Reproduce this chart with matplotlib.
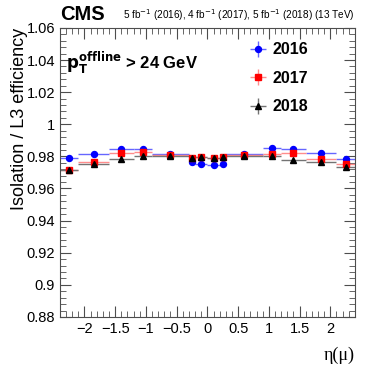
import numpy as np
import matplotlib
matplotlib.use("Agg")
import matplotlib.pyplot as plt
from matplotlib.ticker import MultipleLocator

plt.rcParams['font.family'] = ['Liberation Sans', 'DejaVu Sans']

# eta bin edges
edges = np.array([-2.4, -2.1, -1.6, -1.2, -0.9, -0.3, -0.2, 0.0,
                  0.2, 0.3, 0.9, 1.2, 1.6, 2.1, 2.4])
eff_2016 = [0.9792, 0.9817, 0.9848, 0.9844, 0.9812, 0.9767, 0.9750,
            0.9744, 0.9754, 0.9812, 0.9854, 0.9848, 0.9821, 0.9785]
eff_2017 = [0.9717, 0.9767, 0.9821, 0.9827, 0.9806, 0.9792, 0.9796,
            0.9790, 0.9796, 0.9806, 0.9817, 0.9821, 0.9785, 0.9750]
eff_2018 = [0.9715, 0.9750, 0.9781, 0.9800, 0.9804, 0.9790, 0.9795,
            0.9790, 0.9796, 0.9805, 0.9800, 0.9775, 0.9765, 0.9733]
err = 0.0006
years = ['2016', '2017', '2018']

centers = 0.5 * (edges[1:] + edges[:-1])
halfw = 0.5 * (edges[1:] - edges[:-1])

fig = plt.figure(figsize=(3.74, 3.72), dpi=100)
ax = fig.add_axes([0.160, 0.148, 0.789, 0.777])

styles = [('blue', 'o', (0.4, 0.4, 1.0)),
          ('red', 's', (1.0, 0.55, 0.55)),
          ('black', '^', (0.45, 0.45, 0.45))]
for vals, yr, (c, m, ec) in zip([eff_2016, eff_2017, eff_2018], years, styles):
    ax.errorbar(centers, vals, xerr=halfw, yerr=err, fmt=m, color=c,
                ecolor=ec, elinewidth=1.0, markersize=4.3, capsize=0,
                label=yr)

ax.set_xlim(-2.4, 2.4)
ax.set_ylim(0.88, 1.06)
ax.xaxis.set_major_locator(MultipleLocator(0.5))
ax.xaxis.set_minor_locator(MultipleLocator(0.1))
ax.yaxis.set_major_locator(MultipleLocator(0.02))
ax.yaxis.set_minor_locator(MultipleLocator(0.004))
ax.tick_params(which='both', direction='in', top=True, right=True,
               labelsize=10.5, color='0.3')
ax.tick_params(which='major', length=8)
ax.tick_params(which='minor', length=4)
ax.set_yticks(np.arange(0.88, 1.0601, 0.02))
ax.set_yticklabels(['0.88', '0.9', '0.92', '0.94', '0.96', '0.98', '1',
                    '1.02', '1.04', '1.06'])
ax.set_xticks(np.arange(-2, 2.01, 0.5))
ax.set_xticklabels(['\u22122', '\u22121.5', '\u22121', '\u22120.5', '0',
                    '0.5', '1', '1.5', '2'])
for s in ax.spines.values():
    s.set_color('0.3')

ax.set_ylabel('Isolation / L3 efficiency', fontsize=13, loc='top', labelpad=-1)
ax.set_xlabel('\u03b7(\u03bc)', fontsize=13, loc='right', labelpad=8,
              family=['Liberation Serif', 'DejaVu Serif'])

fig.text(0.160, 0.935, 'CMS', fontsize=14.5, fontweight='bold', va='bottom')
fig.text(0.949, 0.938, '5 fb$^{-1}$ (2016), 4 fb$^{-1}$ (2017), 5 fb$^{-1}$ (2018) (13 TeV)',
         fontsize=7.2, ha='right', va='bottom')
ax.text(0.02, 0.86, r'$\mathbf{p_T^{offline}}$ > 24 GeV', transform=ax.transAxes,
        fontsize=12, fontweight='bold')

leg = ax.legend(loc='upper left', bbox_to_anchor=(0.58, 1.0), frameon=False,
                prop={'size': 11.5, 'weight': 'bold'}, labelspacing=0.85,
                handlelength=1.6, handletextpad=0.1)

fig.savefig('out.png', dpi=100)
